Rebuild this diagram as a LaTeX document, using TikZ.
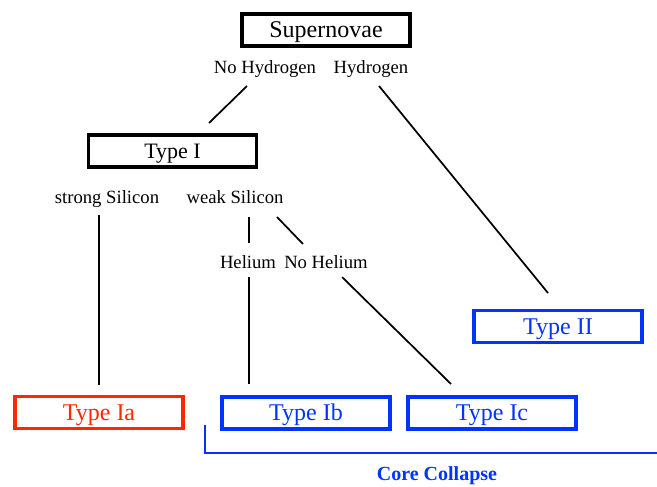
\documentclass[tikz,border=0pt]{standalone}
\usepackage{fontspec}
\setmainfont{Liberation Serif}
\definecolor{iared}{RGB}{255,38,0}
\definecolor{ccblue}{RGB}{0,51,255}
\begin{document}
\begin{tikzpicture}[x=0.75pt,y=-0.75pt,
    snbox/.style={draw,line width=2.5pt,minimum width=126pt,minimum height=24pt,
        inner sep=0pt,text height=11.9pt,text depth=0pt,font=\fontsize{18}{20}\selectfont},
    lbl/.style={inner sep=0pt,text height=9.5pt,text depth=3pt,font=\fontsize{14}{16}\selectfont},
    link/.style={line width=1.3pt}]
    \useasboundingbox (0,0) rectangle (657,486);
    % boxes
    \node[snbox] (super) at (326,30) {Supernovae};
    \node[snbox,text height=10.9pt,font=\fontsize{16.5}{20}\selectfont] (typeI) at (172.5,151) {Type I};
    \node[snbox,ccblue] (typeII) at (558,326.5) {Type II};
    \node[snbox,iared] (typeIa) at (99,412.5) {Type Ia};
    \node[snbox,ccblue] (typeIb) at (306,413) {Type Ib};
    \node[snbox,ccblue] (typeIc) at (492,413) {Type Ic};
    % labels
    \node[lbl] (noH) at (265,69.5) {No Hydrogen};
    \node[lbl] (hyd) at (371,69.5) {Hydrogen};
    \node[lbl] (strSi) at (107,198.8) {strong Silicon};
    \node[lbl] (weakSi) at (235,198.8) {weak Silicon};
    \node[lbl] (hel) at (248,264) {Helium};
    \node[lbl] (noHe) at (326,264) {No Helium};
    \node[inner sep=0pt,ccblue,font=\fontsize{15}{18}\selectfont\bfseries] (core) at (437,476) {Core Collapse};
    % line ends
    \coordinate (noHa) at (247,86);   \coordinate (noHb) at (209,123);
    \coordinate (hyda) at (379,86);   \coordinate (hydb) at (548,293);
    \coordinate (strSia) at (99,215); \coordinate (strSib) at (99,385);
    \coordinate (weakSia) at (249,217); \coordinate (weakSib) at (249,243);
    \coordinate (weakSic) at (277,217); \coordinate (weakSid) at (303,244);
    \coordinate (hela) at (249,277);  \coordinate (helb) at (249,384);
    \coordinate (noHea) at (342,277); \coordinate (noHeb) at (451,384);
    \draw[link] (noHa) -- (noHb);
    \draw[link] (hyda) -- (hydb);
    \draw[link] (strSia) -- (strSib);
    \draw[link] (weakSia) -- (weakSib);
    \draw[link] (weakSic) -- (weakSid);
    \draw[link] (hela) -- (helb);
    \draw[link] (noHea) -- (noHeb);
    % core collapse bracket
    \coordinate (cca) at (205,425);
    \coordinate (ccb) at (205,453);
    \coordinate (ccc) at (657,453);
    \draw[ccblue,line width=0.9pt] (cca) -- (ccb) -- (ccc);
\end{tikzpicture}
\end{document}
